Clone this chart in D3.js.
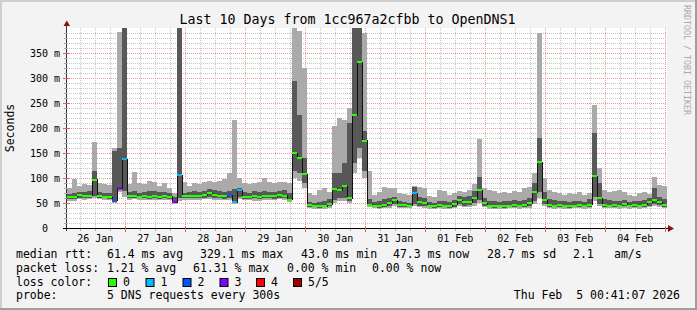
<!DOCTYPE html>
<html>
<head>
<meta charset="utf-8">
<script src="https://cdn.jsdelivr.net/npm/d3@7"></script>
<style>
  body { margin: 0; background: #f3f3f3; }
  svg { display: block; }
  text { font-family: "DejaVu Sans Mono", monospace; white-space: pre; fill: #000; }
</style>
</head>
<body>
<svg id="chart" width="697" height="310"></svg>
<script>
// ---- data (one sample every 2 hours) ----
const title = "Last 10 Days from 1cc967a2cfbb to OpenDNS1";
const startTime = new Date(2026, 0, 26, 0, 41, 7);
const endTime = new Date(2026, 1, 5, 0, 41, 7);
const stepHours = 2;

// median rtt in ms
const median = [
  62,63,66,64,65,97,64,63,62,56,80,138,
  64,65,63,64,63,64,63,64,63,52,106,64,
  64,64,65,66,70,66,65,64,66,52,76,63,
  62,64,62,64,65,64,66,65,57,150,140,108,
  46,44,43,44,48,79,76,84,60,226,332,175,
  47,45,44,46,50,56,46,46,45,70,52,50,
  45,44,46,45,44,48,56,52,52,60,76,50,
  45,44,45,44,45,46,45,46,50,72,132,56,
  46,45,46,45,44,45,46,45,47,104,60,46,
  45,46,45,49,45,46,45,47,52,56,52,46
];
// outer smoke (light gray): lowest and highest ping
const smokeLow = [
  55,54,58,57,58,60,58,57,56,50,72,62,
  57,58,56,57,56,57,57,57,56,48,55,57,
  57,56,57,58,58,57,57,56,56,48,58,56,
  56,55,54,56,57,56,58,57,52,100,95,80,
  40,39,38,39,40,50,55,55,50,110,140,100,
  42,40,39,40,41,44,40,40,40,44,42,41,
  39,39,40,39,39,40,44,42,42,45,50,42,
  39,39,39,39,40,40,39,40,41,48,60,44,
  40,39,40,39,39,40,40,39,40,55,44,40,
  40,40,39,41,39,40,39,40,42,44,42,40
];
const smokeHigh = [
  80,98,85,88,86,172,90,88,86,160,392,420,
  88,113,90,88,95,92,85,90,80,70,420,92,
  85,90,88,92,95,92,95,98,110,216,100,90,
  88,90,92,100,92,90,92,92,90,420,394,320,
  70,66,76,80,72,205,220,216,240,420,420,390,
  114,66,72,82,80,80,70,68,66,84,82,80,
  64,62,76,74,66,70,74,72,76,88,178,80,
  76,74,70,72,70,74,72,80,82,110,390,100,
  76,72,70,66,70,68,72,66,70,246,120,76,
  72,74,76,72,66,64,70,72,68,103,86,84
];
// inner smoke (dark gray)
const coreLow = [
  58,58,60,60,60,64,60,60,58,53,76,75,
  60,60,60,60,59,60,59,60,59,50,60,60,
  60,60,60,60,62,60,60,59,60,50,62,59,
  58,60,58,60,60,59,60,60,55,115,110,90,
  43,42,41,42,44,56,60,60,55,130,160,114,
  44,42,41,42,44,48,43,42,42,48,45,44,
  42,41,42,42,41,43,48,45,46,50,56,45,
  42,41,42,41,42,42,42,43,44,55,72,48,
  42,42,42,42,41,42,42,42,43,62,48,42,
  42,42,42,44,42,42,42,43,45,48,46,43
];
const coreHigh = [
  68,70,72,72,75,115,72,70,70,155,160,420,
  72,75,70,72,75,74,72,73,70,62,420,70,
  72,74,72,75,78,76,75,72,74,78,80,72,
  70,74,72,75,72,72,74,76,70,294,227,140,
  52,50,52,55,58,110,110,130,210,420,420,194,
  58,52,55,58,60,62,55,52,50,82,62,60,
  52,50,55,54,52,56,64,62,64,75,103,60,
  55,54,52,55,54,56,55,56,60,90,180,72,
  58,56,54,55,52,54,55,52,58,190,90,58,
  56,55,54,56,52,54,55,56,60,80,62,58
];
// lost packets out of 5
const loss = [
  0,0,0,0,0,0,0,0,0,2,3,1,
  0,0,0,0,0,0,0,0,0,3,1,0,
  0,0,0,0,0,0,0,0,2,1,1,0,
  0,0,0,0,0,0,0,0,0,0,0,0,
  0,0,0,0,0,0,0,0,0,0,0,0,
  0,0,0,0,0,0,0,0,0,1,0,0,
  0,0,0,0,0,0,0,0,0,0,0,0,
  0,0,0,0,0,0,0,0,0,0,0,0,
  0,0,0,0,0,0,0,0,0,0,0,0,
  0,0,0,0,0,0,0,0,0,0,0,0
];
const lossLabels = ["0", "1", "2", "3", "4", "5/5"];
const lossColors = ["#26ff00", "#00b8ff", "#0059ff", "#7e00ff", "#ff0000", "#a10000"];

const yTicks = [0, 50, 100, 150, 200, 250, 300, 350];

const legendRows = [
  [["median rtt:", 16], ["61.4 ms avg", 107], ["329.1 ms max", 200], ["43.0 ms min", 301],
   ["47.3 ms now", 393], ["28.7 ms sd", 487], ["2.1", 573], ["am/s", 614]],
  [["packet loss:", 16], ["1.21 % avg", 107], ["61.31 % max", 193], ["0.00 % min", 287], ["0.00 % now", 372]],
  [["loss color:", 16]],
  [["probe:", 16], ["5 DNS requests every 300s", 107]]
];
const stamp = "Thu Feb  5 00:41:07 2026";

// ---- drawing ----
const W = 697, H = 310;
const svg = d3.select("#chart");

const x = d3.scaleTime().domain([startTime, endTime]).range([67, 667]);
const y = d3.scaleLinear().domain([0, 400]).range([228, 28]);

// background + 3d frame
svg.append("rect").attr("width", W).attr("height", H).attr("fill", "#f3f3f3");
svg.append("rect").attr("width", W).attr("height", 2).attr("fill", "#cfcfcf");
svg.append("rect").attr("width", 2).attr("height", H).attr("fill", "#cfcfcf");
svg.append("rect").attr("y", H - 2).attr("width", W).attr("height", 2).attr("fill", "#9e9e9e");
svg.append("rect").attr("x", W - 2).attr("width", 2).attr("height", H).attr("fill", "#9e9e9e");

// canvas
svg.append("rect")
  .attr("x", x.range()[0]).attr("y", y.range()[1])
  .attr("width", x.range()[1] - x.range()[0])
  .attr("height", y.range()[0] - y.range()[1])
  .attr("fill", "#fff");

svg.append("clipPath").attr("id", "plot")
  .append("rect")
  .attr("x", x.range()[0]).attr("y", y.range()[1])
  .attr("width", x.range()[1] - x.range()[0])
  .attr("height", y.range()[0] - y.range()[1]);

const crisp = v => Math.round(v) + 0.5;

// grid
const grid = svg.append("g").attr("stroke-dasharray", "1,1").attr("stroke-width", 1);
const yMinor = d3.range(10, 400, 10).filter(v => v % 50 !== 0);
const yMajor = d3.range(50, 400, 50);
const xMinor = d3.timeHour.every(6).range(startTime, endTime).filter(d => d.getHours() !== 0);
const xMajor = d3.timeDay.range(startTime, endTime);

grid.selectAll(".hmin").data(yMinor).enter().append("line")
  .attr("x1", 67).attr("x2", 667)
  .attr("y1", d => crisp(y(d))).attr("y2", d => crisp(y(d)))
  .attr("stroke", "#c4c4c4");
grid.selectAll(".vmin").data(xMinor).enter().append("line")
  .attr("y1", 28).attr("y2", 228)
  .attr("x1", d => crisp(x(d))).attr("x2", d => crisp(x(d)))
  .attr("stroke", "#c4c4c4");
grid.selectAll(".hmaj").data(yMajor).enter().append("line")
  .attr("x1", 67).attr("x2", 667)
  .attr("y1", d => crisp(y(d))).attr("y2", d => crisp(y(d)))
  .attr("stroke", "#ee9a9a");
grid.selectAll(".vmaj").data(xMajor).enter().append("line")
  .attr("y1", 28).attr("y2", 228)
  .attr("x1", d => crisp(x(d))).attr("x2", d => crisp(x(d)))
  .attr("stroke", "#ee9a9a");

// samples
const samples = median.map((m, i) => ({
  t0: d3.timeHour.offset(startTime, i * stepHours),
  t1: d3.timeHour.offset(startTime, (i + 1) * stepHours),
  med: m, lo: smokeLow[i], hi: smokeHigh[i], clo: coreLow[i], chi: coreHigh[i], loss: loss[i]
}));

const plot = svg.append("g").attr("clip-path", "url(#plot)").attr("shape-rendering", "crispEdges");

plot.selectAll(".smoke").data(samples).enter().append("rect")
  .attr("x", d => x(d.t0)).attr("width", d => x(d.t1) - x(d.t0))
  .attr("y", d => y(d.hi)).attr("height", d => y(d.lo) - y(d.hi))
  .attr("fill", "#aaaaaa");

plot.selectAll(".core").data(samples).enter().append("rect")
  .attr("x", d => x(d.t0)).attr("width", d => x(d.t1) - x(d.t0))
  .attr("y", d => y(d.chi)).attr("height", d => y(d.clo) - y(d.chi))
  .attr("fill", "#585858");

const medPts = samples.map(d => [x(d.t0), y(d.med)]);
medPts.push([x(endTime), y(median[median.length - 1])]);
plot.append("path")
  .attr("d", d3.line().curve(d3.curveStepAfter)(medPts))
  .attr("fill", "none").attr("stroke", "#111").attr("stroke-width", 1);

plot.selectAll(".med").data(samples).enter().append("rect")
  .attr("x", d => x(d.t0)).attr("width", d => x(d.t1) - x(d.t0))
  .attr("y", d => Math.round(y(d.med)) - 1).attr("height", 2)
  .attr("fill", d => lossColors[d.loss]);

// axes
const axis = svg.append("g").attr("shape-rendering", "crispEdges");
axis.append("line").attr("x1", 66.5).attr("x2", 66.5).attr("y1", 26).attr("y2", 231)
  .attr("stroke", "#333");
axis.append("line").attr("x1", 63).attr("x2", 670).attr("y1", 228.5).attr("y2", 228.5)
  .attr("stroke", "#000");
axis.selectAll(".ytm").data(yMinor).enter().append("line")
  .attr("x1", 64).attr("x2", 67)
  .attr("y1", d => crisp(y(d))).attr("y2", d => crisp(y(d)))
  .attr("stroke", "#aaa");
axis.selectAll(".ytM").data(yMajor).enter().append("line")
  .attr("x1", 63).attr("x2", 70)
  .attr("y1", d => crisp(y(d))).attr("y2", d => crisp(y(d)))
  .attr("stroke", "#e06060");
axis.selectAll(".xtm").data(xMinor).enter().append("line")
  .attr("y1", 229).attr("y2", 231)
  .attr("x1", d => crisp(x(d))).attr("x2", d => crisp(x(d)))
  .attr("stroke", "#aaa");
axis.selectAll(".xtM").data(xMajor).enter().append("line")
  .attr("y1", 226).attr("y2", 232)
  .attr("x1", d => crisp(x(d))).attr("x2", d => crisp(x(d)))
  .attr("stroke", "#e06060");

// arrows
svg.append("path").attr("d", "M63.5,26 L70,26 L66.8,20.5 Z").attr("fill", "#8b1010");
svg.append("path").attr("d", "M668,225 L668,232 L674,228.5 Z").attr("fill", "#8b1010");

// y labels
svg.selectAll(".ylab").data(yTicks).enter().append("text")
  .attr("x", 60).attr("y", d => y(d) + 4)
  .attr("text-anchor", "end")
  .style("font-size", "10px")
  .text(d => d === 0 ? "0  " : d + " m");

// x labels at noon
const noons = d3.timeDay.range(d3.timeDay.floor(startTime), endTime)
  .map(d => d3.timeHour.offset(d, 12))
  .filter(d => d > startTime && d < endTime);
svg.selectAll(".xlab").data(noons).enter().append("text")
  .attr("x", d => x(d)).attr("y", 242)
  .attr("text-anchor", "middle")
  .style("font-size", "10px")
  .text(d3.timeFormat("%d %b"));

// title and axis title
svg.append("text").attr("x", 347.5).attr("y", 24)
  .attr("text-anchor", "middle").style("font-size", "13.3px").text(title);
svg.append("text").attr("transform", "translate(14,128) rotate(-90)")
  .attr("text-anchor", "middle").style("font-size", "11.5px").text("Seconds");
svg.append("text").attr("transform", "translate(684,5) rotate(90)")
  .style("font-size", "8.3px").style("fill", "#aaa").text("RRDTOOL / TOBI OETIKER");

// legend
const rowY = [258, 272, 286, 299];
legendRows.forEach((row, r) => {
  row.forEach(([txt, lx]) => {
    svg.append("text").attr("x", lx).attr("y", rowY[r])
      .style("font-size", "11.5px").text(txt);
  });
});
const boxX = [108, 145.5, 182.5, 219.5, 256, 293];
lossLabels.forEach((lab, i) => {
  svg.append("rect").attr("x", boxX[i] + 0.5).attr("y", 278.5)
    .attr("width", 8).attr("height", 8)
    .attr("fill", lossColors[i]).attr("stroke", "#000").attr("stroke-width", 1);
  svg.append("text").attr("x", boxX[i] + 15).attr("y", rowY[2])
    .style("font-size", "11.5px").text(lab);
});
svg.append("text").attr("x", 680).attr("y", rowY[3])
  .attr("text-anchor", "end").style("font-size", "11.5px").text(stamp);
</script>
</body>
</html>
